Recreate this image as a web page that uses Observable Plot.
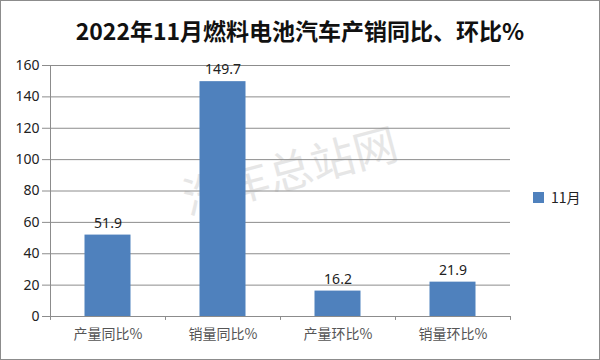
<!DOCTYPE html>
<html><head><meta charset="utf-8">
<script src="https://cdn.jsdelivr.net/npm/d3@7"></script>
<script src="https://cdn.jsdelivr.net/npm/@observablehq/plot@0.6"></script>
<style>
body{margin:0;background:#fff}
#wrap{position:relative;width:600px;height:360px;overflow:hidden;font-family:"Noto Sans CJK SC","Noto Sans",sans-serif;background:#fff}
#frame{position:absolute;left:0;top:0;width:600px;height:360px;box-sizing:border-box;border:1px solid #8c8c8c;pointer-events:none}
#title{position:absolute;left:0;top:13px;width:600px;text-align:center;font-size:23px;font-weight:bold;color:#111;line-height:34px}
#legend{position:absolute;left:533px;top:186px;font-size:14px;color:#222;display:flex;align-items:center;line-height:22px}
#legend .sw{display:inline-block;width:11px;height:11px;margin-right:7px}
#chart{position:absolute;left:0;top:0}
</style></head>
<body>
<div id="wrap"><div id="chart"></div><div id="title"></div><div id="legend"></div><div id="frame"></div></div>
<script>
const titleText = "2022年11月燃料电池汽车产销同比、环比%";
const categories = ["产量同比%", "销量同比%", "产量环比%", "销量环比%"];
const values = [51.9, 149.7, 16.2, 21.9];
const yTicks = [0, 20, 40, 60, 80, 100, 120, 140, 160];
const seriesName = "11月";
const watermark = "汽车总站网";
const barColor = "#4F81BD";

const data = categories.map((c, i) => ({category: c, value: values[i]}));

const W = 600, H = 360, mL = 50, mR = 90, mT = 65, mB = 44;
const half = (W - mL - mR) / categories.length / 2;

document.getElementById("title").textContent = titleText;
const lg = document.getElementById("legend");
const sw = document.createElement("span"); sw.className = "sw"; sw.style.background = barColor;
lg.appendChild(sw); lg.appendChild(document.createTextNode(seriesName));

const plot = Plot.plot({
  width: W, height: H,
  marginLeft: mL, marginRight: mR, marginTop: mT, marginBottom: mB,
  style: {background: "transparent", fontSize: "14px", fontFamily: "'Noto Sans','Noto Sans CJK SC',sans-serif", color: "#8c8c8c"},
  x: {domain: categories, padding: 0, label: null, tickSize: 0, tickPadding: 13},
  y: {domain: [0, 160], ticks: yTicks, tickSize: 8, tickPadding: 3, label: null, line: true},
  marks: [
    Plot.text([watermark], {frameAnchor: "middle", text: d => d, rotate: -15, fontSize: 44, fill: "#e6e6e6", dx: 10, dy: -18, fontFamily: "'Noto Sans CJK SC',sans-serif"}),
    Plot.ruleY(yTicks.slice(1), {stroke: "#8c8c8c"}),
    Plot.barY(data, {x: "category", y: "value", fill: barColor, insetLeft: 34.5, insetRight: 34.5}),
    Plot.ruleY([0], {stroke: "#8c8c8c"}),
    Plot.ruleX(categories, {x: d => d, dx: -half, y1: 0, y2: -2.5, stroke: "#8c8c8c"}),
    Plot.ruleX([categories[categories.length - 1]], {x: d => d, dx: half, y1: 0, y2: -2.5, stroke: "#8c8c8c"}),
    Plot.text(data, {x: "category", y: "value", text: d => d.value.toFixed(1), dy: -12, fontSize: 14, fill: "#222"})
  ]
});
document.getElementById("chart").appendChild(plot);
const svg = d3.select(plot);
svg.selectAll('[aria-label^="y-axis"] text').attr("fill", "#222");
svg.selectAll('[aria-label^="x-axis"] text').attr("fill", "#555").style("font-family", "'Noto Sans CJK SC',sans-serif");
</script>
</body></html>
